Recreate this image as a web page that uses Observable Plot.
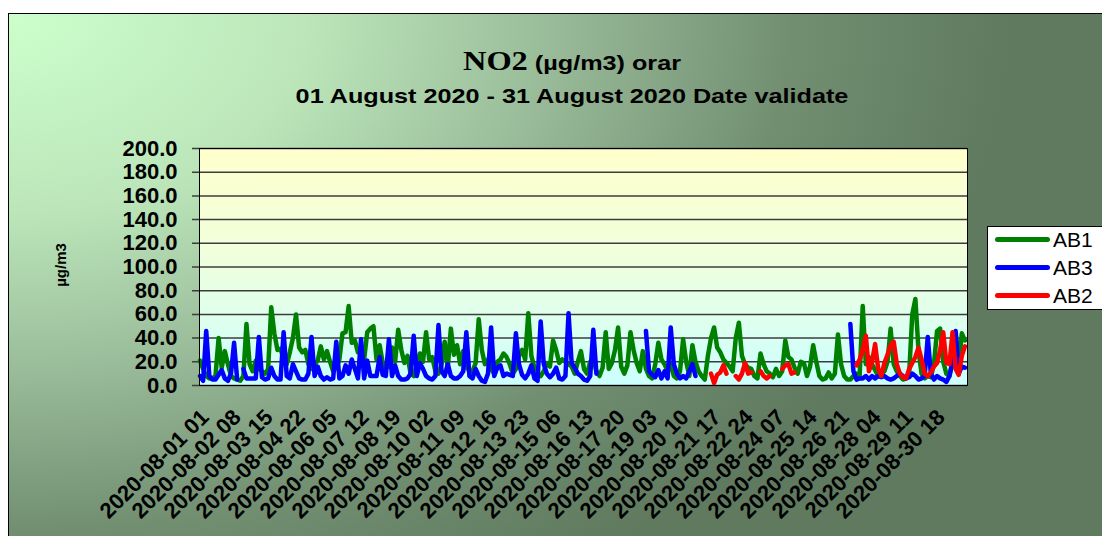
<!DOCTYPE html>
<html>
<head>
<meta charset="utf-8">
<script src="https://cdn.jsdelivr.net/npm/d3@7"></script>
<script src="https://cdn.jsdelivr.net/npm/@observablehq/plot@0.6"></script>
<style>
  html, body { margin: 0; padding: 0; background: #fff; }
  body { width: 1102px; height: 536px; overflow: hidden; position: relative; font-family: "Liberation Sans", Arial, sans-serif; }
  #bg { position: absolute; left: 8px; top: 13px; width: 1110px; height: 540px; border: 1px solid #000;
        background: radial-gradient(ellipse 1000px 660px at 0 0, #CCFFCC 0%, #BCE6BA 30%, #98BA98 55%, #728F72 78%, #5F7A5F 100%); }
  #plotbg { position: absolute; left: 199px; top: 148px; width: 768px; height: 237px;
        background: linear-gradient(to bottom, #FFFFCC 0%, #F0FFDC 45%, #CCFFFF 100%); }
  #chart { position: absolute; left: 0; top: 0; }
  .ttl { position: absolute; left: 572px; white-space: nowrap; font-weight: bold; color: #000;
         transform: translateX(-50%) scaleX(1.2); }
  #t1 { top: 45px; font-size: 21px; line-height: 32px; }
  #t1 .serif { font-family: "Liberation Serif", "Times New Roman", serif; font-size: 27px; }
  #t2 { top: 85px; font-size: 21px; line-height: 21px; }
  #ylab { position: absolute; left: 60px; top: 265px; font-weight: bold; font-size: 15px; white-space: nowrap;
          transform: translate(-50%, -50%) rotate(-90deg); }
  #legend { position: absolute; left: 987px; top: 226px; width: 130px; height: 82px; background: #fff; border: 1px solid #000; }
  .li { position: absolute; left: 0; height: 28px; width: 130px; }
  .sw { position: absolute; left: 7px; top: 11px; width: 55px; height: 5px; border-radius: 3px; }
  .lt { position: absolute; left: 65px; top: 2px; font-size: 21px; line-height: 24px; color: #000; }
</style>
</head>
<body>
<div id="bg"></div>
<div id="plotbg"></div>
<div id="chart"></div>
<div id="t1" class="ttl"><span class="serif">NO2</span> (µg/m3) orar</div>
<div id="t2" class="ttl">01 August 2020 - 31 August 2020 Date validate</div>
<div id="ylab">µg/m3</div>
<div id="legend"></div>
<script>
// ---- data (3-hour samples of the hourly series) ----
const stepHours = 3;

const seriesNames = ["AB1", "AB3", "AB2"];
const seriesColors = ["#008000", "#0000FF", "#FF0000"];

const yTicks = [0, 20, 40, 60, 80, 100, 120, 140, 160, 180, 200];

const xLabels = ["2020-08-01 01","2020-08-02 08","2020-08-03 15","2020-08-04 22","2020-08-06 05","2020-08-07 12",
  "2020-08-08 19","2020-08-10 02","2020-08-11 09","2020-08-12 16","2020-08-13 23","2020-08-15 06","2020-08-16 13",
  "2020-08-17 20","2020-08-19 03","2020-08-20 10","2020-08-21 17","2020-08-22 24","2020-08-24 07","2020-08-25 14",
  "2020-08-26 21","2020-08-28 04","2020-08-29 11","2020-08-30 18"];
const labelEveryHours = 31;

const AB1 = [
  21,14,8,6,6,8,40,15,
  29,18,8,6,5,4,8,52,
  18,12,21,14,12,10,14,66,
  44,30,31,22,18,28,40,60,
  32,28,30,18,14,18,21,33,
  22,29,20,12,15,22,44,45,
  67,36,38,28,31,22,45,48,
  50,22,34,19,15,16,32,20,
  47,30,19,25,10,8,18,27,
  20,45,22,24,12,10,18,37,
  15,48,26,34,18,29,16,12,
  12,19,56,30,18,22,14,10,
  20,22,27,24,18,10,14,25,
  30,22,61,25,15,10,8,12,
  19,16,38,30,19,22,20,18,
  16,10,20,29,14,10,20,22,
  12,8,15,45,14,19,30,49,
  16,10,17,45,30,19,12,29,
  14,8,6,18,36,22,18,12,
  18,8,6,12,39,20,8,34,
  20,12,8,5,25,40,49,32,
  28,22,19,16,12,40,53,25,
  18,15,14,8,6,27,18,12,
  10,7,14,8,12,38,24,22,
  15,10,20,19,8,16,34,20,
  8,5,6,11,6,10,43,18,
  8,5,5,8,10,8,67,18,
  24,18,13,8,10,12,20,48,
  18,12,8,5,6,10,60,73,
  30,10,6,8,7,18,46,48,
  20,10,8,20,44,15,44,38
];

const AB3 = [
  8,4,46,8,5,5,9,13,
  6,4,10,36,5,null,14,6,
  6,6,6,41,7,5,6,15,
  8,5,5,45,8,6,18,12,
  6,5,5,10,41,8,16,8,
  5,7,5,6,37,6,8,17,
  10,22,14,6,39,6,21,8,
  8,8,24,9,8,39,8,17,
  8,5,5,6,10,42,8,19,
  14,8,6,5,8,51,12,8,
  18,8,6,6,8,12,45,8,
  6,14,8,4,3,10,49,8,
  15,17,8,10,9,8,44,18,
  9,6,10,17,6,4,54,18,
  10,7,10,15,6,5,8,61,
  19,15,10,8,5,4,8,47,
  10,null,null,null,null,null,null,null,
  null,null,null,null,null,null,null,null,
  46,12,9,7,13,6,12,6,
  49,18,10,6,8,6,12,18,
  8,null,null,null,null,null,null,null,
  null,null,null,null,null,null,null,null,
  null,null,null,null,null,null,null,null,
  null,null,null,null,null,null,null,null,
  null,null,null,null,null,null,null,null,
  null,null,null,null,null,null,null,null,
  null,null,52,12,5,6,6,8,
  5,8,6,8,7,8,6,5,
  6,8,10,8,6,7,10,8,
  5,6,8,41,10,5,8,6,
  5,3,8,20,46,10,16,15
];

const AB2 = [
  null,null,null,null,null,null,null,null, null,null,null,null,null,null,null,null,
  null,null,null,null,null,null,null,null, null,null,null,null,null,null,null,null,
  null,null,null,null,null,null,null,null, null,null,null,null,null,null,null,null,
  null,null,null,null,null,null,null,null, null,null,null,null,null,null,null,null,
  null,null,null,null,null,null,null,null, null,null,null,null,null,null,null,null,
  null,null,null,null,null,null,null,null, null,null,null,null,null,null,null,null,
  null,null,null,null,null,null,null,null, null,null,null,null,null,null,null,null,
  null,null,null,null,null,null,null,null, null,null,null,null,null,null,null,null,
  null,null,null,null,null,null,null,null, null,null,null,null,null,null,null,null,
  null,null,null,null,null,null,null,null, null,null,null,null,null,null,null,null,
  null,null,null,null,null,10,2,9,
  11,17,10,null,null,8,5,10,
  19,10,11,null,null,12,8,6,
  8,null,null,null,14,17,18,10,
  11,null,null,null,null,null,null,null,
  null,null,null,null,null,null,null,null,
  null,null,null,null,17,22,30,42,
  12,20,35,14,8,19,26,34,
  37,18,10,7,6,14,19,24,
  32,22,10,8,11,16,19,30,
  45,19,18,45,14,9,25,33
];

// ---- build ----
const W = 1102, H = 536;
const plotLeft = 199, plotRight = 967, plotTop = 148, plotBottom = 385;
const toRows = arr => arr.map((v, i) => ({h: i * stepHours, v: v == null ? NaN : v}));
const seriesData = [AB1, AB3, AB2].map(toRows);

const lineOpts = (k) => ({x: "h", y: "v", stroke: seriesColors[k], strokeWidth: 4.5,
  strokeLinejoin: "round", strokeLinecap: "round"});

const pxPerHour = (plotRight - plotLeft) / 744;

const chart = Plot.plot({
  width: W, height: H,
  marginLeft: plotLeft, marginRight: W - plotRight, marginTop: plotTop, marginBottom: H - plotBottom,
  x: {domain: [-0.5, 743.5], axis: null},
  y: {domain: [0, 200], axis: null},
  style: {background: "transparent", overflow: "visible", fontFamily: "'Liberation Sans', Arial, sans-serif", color: "#000"},
  marks: [
    Plot.ruleY(yTicks, {x1: -0.5 - 7 / pxPerHour, x2: 743.5, stroke: "#3c3c3c", strokeWidth: 1.5}),
    Plot.line(seriesData[0], lineOpts(0)),
    Plot.line(seriesData[1], lineOpts(1)),
    Plot.line(seriesData[2], lineOpts(2)),
    Plot.frame({stroke: "#000", strokeWidth: 1}),
    Plot.text(yTicks, {x: -0.5, y: d => d, text: d => d.toFixed(1), textAnchor: "end", dx: -22,
      fontSize: 22, fontWeight: "bold", fill: "#000"}),
    Plot.text(xLabels, {x: (d, i) => i * labelEveryHours, y: 0, text: d => d, rotate: -45,
      textAnchor: "end", lineAnchor: "top", dx: -1, dy: 22, fontSize: 22, fontWeight: "bold", fill: "#000"})
  ]
});
document.getElementById("chart").appendChild(chart);

// legend
const legend = document.getElementById("legend");
seriesNames.forEach((name, k) => {
  const item = document.createElement("div");
  item.className = "li";
  item.style.top = (k * 28 - 1) + "px";
  const sw = document.createElement("div");
  sw.className = "sw";
  sw.style.background = seriesColors[k];
  const t = document.createElement("div");
  t.className = "lt";
  t.textContent = name;
  item.appendChild(sw); item.appendChild(t);
  legend.appendChild(item);
});
</script>
</body>
</html>
